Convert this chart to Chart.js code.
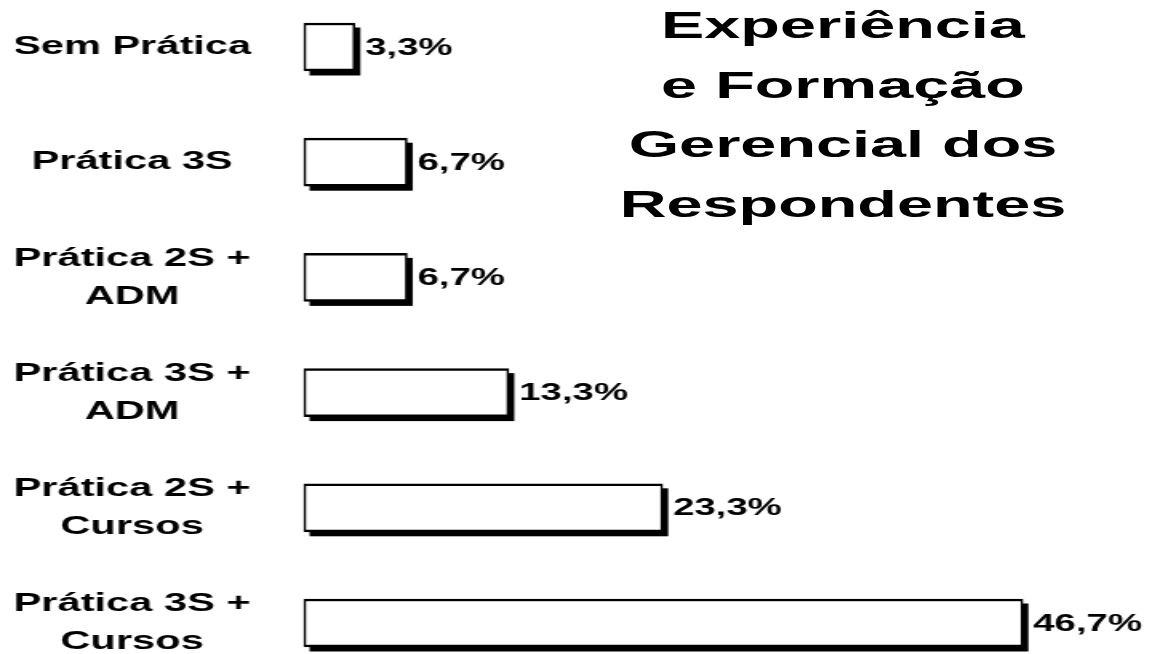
<!DOCTYPE html>
<html lang="pt">
<head>
<meta charset="utf-8">
<title>Experiência e Formação Gerencial dos Respondentes</title>
<script src="https://cdn.jsdelivr.net/npm/chart.js@4/dist/chart.umd.min.js"></script>
<style>
  body { margin: 0; background: #fff; overflow: hidden; width: 1151px; height: 654px; position: relative; }
  /* the whole chart is drawn narrow and widened, giving the broad lettering */
  #wrap { position: absolute; left: 0; top: 0; width: 720px; height: 654px; transform: scaleX(1.6); transform-origin: 0 0; }
  #titulo {
    position: absolute; left: 693px; top: -4px; width: 300px;
    text-align: center; white-space: nowrap; color: #000;
    font: bold 36px "Liberation Sans", Arial, sans-serif; line-height: 59.5px;
    transform: scaleX(1.8); transform-origin: 50% 0;
  }
</style>
</head>
<body>
<div id="wrap"><canvas id="grafico" width="720" height="654"></canvas></div>
<div id="titulo">Experiência<br>e Formação<br>Gerencial dos<br>Respondentes</div>
<script>
const categorias = [
  'Sem Prática',
  'Prática 3S',
  ['Prática 2S +', 'ADM'],
  ['Prática 3S +', 'ADM'],
  ['Prática 2S +', 'Cursos'],
  ['Prática 3S +', 'Cursos']
];
const percentuais = [3.3, 6.7, 6.7, 13.3, 23.3, 46.7];

const fonte = '"Liberation Sans", Arial, sans-serif';

// black block behind each bar, shifted right and down
const sombra = {
  id: 'sombra',
  beforeDatasetsDraw(chart) {
    const ctx = chart.ctx;
    ctx.save();
    ctx.fillStyle = '#000';
    chart.getDatasetMeta(0).data.forEach(bar => {
      const p = bar.getProps(['x', 'y', 'base', 'height'], true);
      ctx.fillRect(p.base + 3.5, p.y - p.height / 2 + 4.5, p.x - p.base, p.height);
    });
    ctx.restore();
  }
};

// percentage written after the end of each bar
const rotulos = {
  id: 'rotulos',
  afterDatasetsDraw(chart) {
    const ctx = chart.ctx;
    ctx.save();
    ctx.font = 'bold 24px ' + fonte;
    ctx.fillStyle = '#000';
    ctx.textBaseline = 'middle';
    chart.getDatasetMeta(0).data.forEach((bar, i) => {
      const txt = percentuais[i].toFixed(1).replace('.', ',') + '%';
      ctx.fillText(txt, bar.x + 6.5, bar.y + 1);
    });
    ctx.restore();
  }
};

new Chart(document.getElementById('grafico'), {
  type: 'bar',
  data: {
    labels: categorias,
    datasets: [{
      data: percentuais,
      backgroundColor: '#fff',
      borderColor: '#000',
      borderWidth: { top: 2.5, bottom: 2.5, left: 1.6, right: 1.6 },
      borderSkipped: false,
      barThickness: 48,
      clip: false
    }]
  },
  options: {
    indexAxis: 'y',
    responsive: false,
    animation: false,
    layout: { padding: { left: 10, right: 49, top: 47, bottom: 31 } },
    plugins: {
      legend: { display: false },
      tooltip: { enabled: false }
    },
    scales: {
      x: { display: false, min: 0, max: 50 },
      y: {
        offset: false,
        grid: { display: false },
        border: { display: false },
        ticks: {
          autoSkip: false,
          color: '#000',
          padding: 25,
          crossAlign: 'center',
          font: { family: fonte, size: 26, weight: 'bold', lineHeight: 1.46 }
        },
        afterFit(scale) {
          scale.width = 180;
          scale.paddingTop = 0;
          scale.paddingBottom = 0;
        }
      }
    }
  },
  plugins: [sombra, rotulos]
});
</script>
</body>
</html>
